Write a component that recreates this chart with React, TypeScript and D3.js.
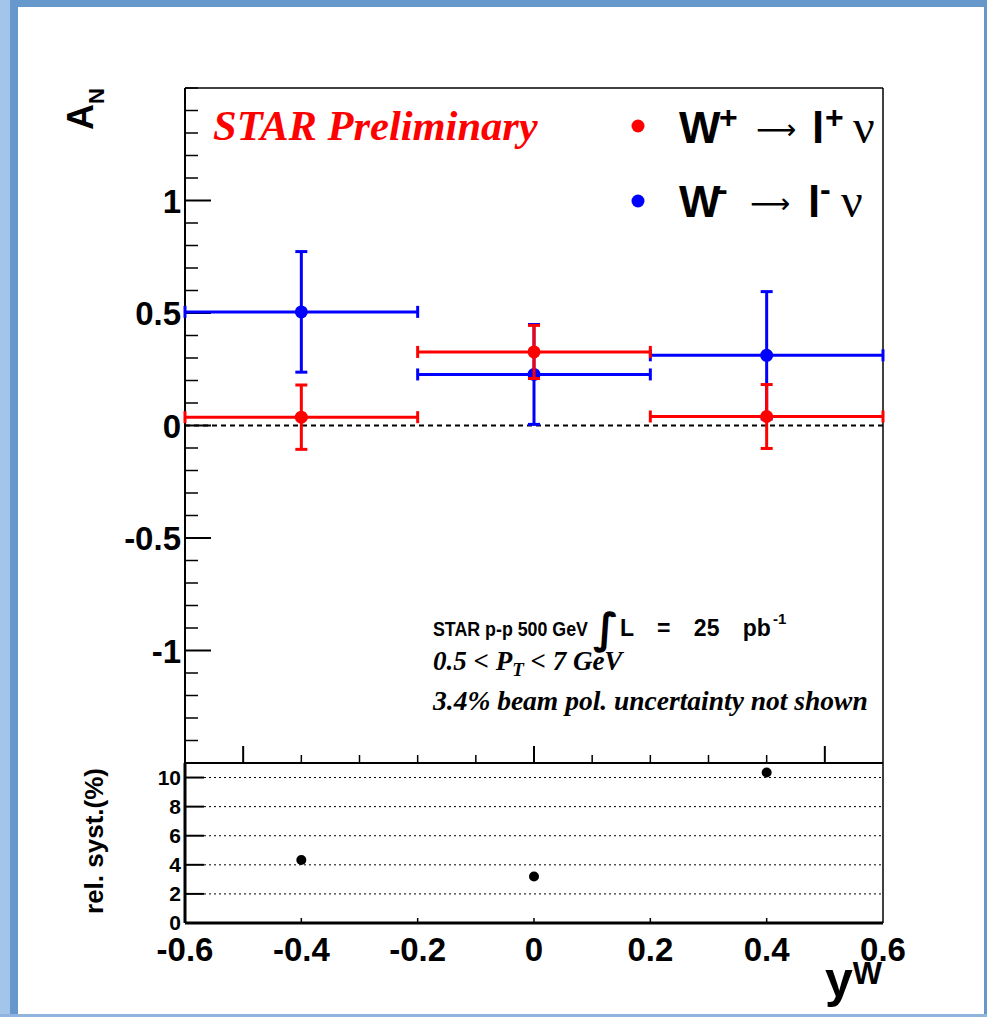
import React from "react";
import * as d3 from "d3";

// ---- data ----
const binCenters = [-0.4, 0.0, 0.4];
const binHalfWidth = [0.2, 0.2, 0.2];
const wPlusValues = [0.037, 0.327, 0.04];
const wPlusErrors = [0.143, 0.118, 0.142];
const wMinusValues = [0.505, 0.227, 0.312];
const wMinusErrors = [0.268, 0.222, 0.283];
const relSystValues = [4.33, 3.2, 10.35];
const mainYMajorTicks = [-1, -0.5, 0, 0.5, 1];
const mainYTickLabels = ["-1", "-0.5", "0", "0.5", "1"];
const lowerYTicks = [0, 2, 4, 6, 8, 10];
const lowerXTicks = [-0.6, -0.4, -0.2, 0, 0.2, 0.4, 0.6];
const lowerXTickLabels = ["-0.6", "-0.4", "-0.2", "0", "0.2", "0.4", "0.6"];

const W = 987;
const H = 1017;
const RED = "#ff0000";
const BLUE = "#0000ff";
const SANS = "'Liberation Sans', Arial, Helvetica, sans-serif";
const SERIF = "'Liberation Serif', 'Times New Roman', serif";
const DEJAVU = "'DejaVu Sans', sans-serif";

const L = 185, R = 883, MT = 88, MB = 763, LB = 923;

const x = d3.scaleLinear().domain([-0.6, 0.6]).range([L, R]);
const y = d3.scaleLinear().domain([-1.5, 1.5]).range([MB, MT]);
const y2 = d3.scaleLinear().domain([0, 11]).range([LB, MB]);

const fmt1 = (v: number) => Math.round(v * 10) / 10;
const minorY = d3.range(-15, 16).map((i) => i / 10).filter((v) => !mainYMajorTicks.some((m) => Math.abs(m - v) < 1e-9));
const mainXTicks = d3.range(-5, 6).map((i) => i / 10);

function Series({ vals, errs, color }: { vals: number[]; errs: number[]; color: string }) {
  const cap = 6;
  return (
    <g stroke={color} fill={color} strokeWidth={3}>
      {binCenters.map((c, i) => {
        const cx = x(c);
        const cy = y(vals[i]);
        const xl = x(c - binHalfWidth[i]);
        const xr = x(c + binHalfWidth[i]);
        const yt = y(vals[i] + errs[i]);
        const yb = y(vals[i] - errs[i]);
        return (
          <g key={i}>
            <line x1={xl} x2={xr} y1={cy} y2={cy} />
            <line x1={xl} x2={xl} y1={cy - cap} y2={cy + cap} />
            <line x1={xr} x2={xr} y1={cy - cap} y2={cy + cap} />
            <line x1={cx} x2={cx} y1={yt} y2={yb} />
            <line x1={cx - cap} x2={cx + cap} y1={yt} y2={yt} />
            <line x1={cx - cap} x2={cx + cap} y1={yb} y2={yb} />
            <circle cx={cx} cy={cy} r={6.5} stroke="none" />
          </g>
        );
      })}
    </g>
  );
}

export default function App() {
  return (
    <svg width={W} height={H} style={{ position: "absolute", left: 0, top: 0, display: "block" }}>
      {/* window frame */}
      <rect x={0} y={0} width={W} height={H} fill="#6698cb" />
      <rect x={0} y={0} width={10} height={H} fill="#a3c5ea" />
      <rect x={0} y={1014} width={W} height={3} fill="#8fb5df" />
      <rect x={18} y={7} width={966} height={1007} fill="#ffffff" />

      {/* zero dashed line */}
      <line x1={L} x2={R} y1={y(0)} y2={y(0)} stroke="#000" strokeWidth={2} strokeDasharray="5,4" />

      {/* main panel frame */}
      <line x1={L} x2={R} y1={MT} y2={MT} stroke="#000" strokeWidth={1.5} />
      <line x1={R} x2={R} y1={MT} y2={MB} stroke="#000" strokeWidth={1.5} />
      <line x1={L} x2={R} y1={MB} y2={MB} stroke="#000" strokeWidth={2} />
      <line x1={L} x2={L} y1={MT} y2={MB} stroke="#000" strokeWidth={2} />

      {/* main y ticks */}
      {mainYMajorTicks.map((v, i) => (
        <g key={"ym" + i}>
          <line x1={L} x2={L + 26} y1={y(v)} y2={y(v)} stroke="#000" strokeWidth={2} />
          <text x={181} y={y(v) + 12} textAnchor="end" fontFamily={SANS} fontWeight="bold" fontSize={33}>
            {mainYTickLabels[i]}
          </text>
        </g>
      ))}
      {minorY.map((v, i) => (
        <line key={"yn" + i} x1={L} x2={L + 13} y1={y(v)} y2={y(v)} stroke="#000" strokeWidth={1.5} />
      ))}
      {/* main x ticks */}
      {mainXTicks.map((v, i) => {
        const big = Math.abs(fmt1(v) % 0.5) < 1e-9;
        return <line key={"xm" + i} x1={x(v)} x2={x(v)} y1={MB} y2={MB - (big ? 17 : 8)} stroke="#000" strokeWidth={big ? 2 : 1.5} />;
      })}

      {/* data */}
      <Series vals={wMinusValues} errs={wMinusErrors} color={BLUE} />
      <Series vals={wPlusValues} errs={wPlusErrors} color={RED} />

      {/* STAR Preliminary */}
      <text x={213} y={140} fill={RED} fontFamily={SERIF} fontWeight="bold" fontStyle="italic" fontSize={42.5}>
        STAR Preliminary
      </text>

      {/* legend */}
      <circle cx={638} cy={126} r={6.5} fill={RED} />
      <text y={143} fontFamily={SANS} fontWeight="bold" fontSize={44}>
        <tspan x={679}>W</tspan>
        <tspan x={719} y={128} fontSize={32}>+</tspan>
      </text>
      <text x={756} y={139} fontFamily={DEJAVU} fontSize={28}>⟶</text>
      <text y={143} fontFamily={SANS} fontWeight="bold" fontSize={44}>
        <tspan x={812}>l</tspan>
        <tspan x={825} y={128} fontSize={32}>+</tspan>
      </text>
      <text x={853} y={143} fontFamily={SERIF} fontSize={48}>ν</text>

      <circle cx={638} cy={201} r={6.5} fill={BLUE} />
      <text y={217} fontFamily={SANS} fontWeight="bold" fontSize={44}>
        <tspan x={679}>W</tspan>
        <tspan x={717} y={200} fontSize={32}>-</tspan>
      </text>
      <text x={750} y={213} fontFamily={DEJAVU} fontSize={28}>⟶</text>
      <text y={217} fontFamily={SANS} fontWeight="bold" fontSize={44}>
        <tspan x={808}>l</tspan>
        <tspan x={820} y={200} fontSize={32}>-</tspan>
      </text>
      <text x={841} y={217} fontFamily={SERIF} fontSize={48}>ν</text>

      {/* info text */}
      <text x={433} y={636} fontFamily={SANS} fontWeight="bold" fontSize={21} textLength={155} lengthAdjust="spacingAndGlyphs">
        STAR p-p 500 GeV
      </text>
      <text x={593} y={643} fontFamily={DEJAVU} fontWeight="bold" fontSize={42}>∫</text>
      <text x={620} y={636} fontFamily={SANS} fontWeight="bold" fontSize={23} wordSpacing={17}>
        L = 25 pb
      </text>
      <text x={773} y={624} fontFamily={SANS} fontWeight="bold" fontSize={15}>-1</text>
      <text x={433} y={670} fontFamily={SERIF} fontWeight="bold" fontStyle="italic" fontSize={27}>
        0.5 &lt; P<tspan dy={6} fontSize={19}>T</tspan>
        <tspan dy={-6}> &lt; 7 GeV</tspan>
      </text>
      <text x={433} y={710} fontFamily={SERIF} fontWeight="bold" fontStyle="italic" fontSize={27.5}>
        3.4% beam pol. uncertainty not shown
      </text>

      {/* A_N axis title */}
      <text transform={`translate(93,88) rotate(-90)`} textAnchor="end" fontFamily={SANS} fontWeight="bold" fontSize={36}>
        A<tspan dy={11} fontSize={22}>N</tspan>
      </text>

      {/* lower panel */}
      {lowerYTicks.filter((v) => v > 0).map((v, i) => (
        <line key={"g" + i} x1={L + 19} x2={R} y1={y2(v)} y2={y2(v)} stroke="#000" strokeWidth={1} strokeDasharray="2,3" />
      ))}
      <line x1={L} x2={R} y1={MB} y2={MB} stroke="#000" strokeWidth={1.5} />
      <line x1={R} x2={R} y1={MB} y2={LB} stroke="#000" strokeWidth={1.5} />
      <line x1={L} x2={R} y1={LB} y2={LB} stroke="#000" strokeWidth={3} />
      <line x1={L} x2={L} y1={MB} y2={LB} stroke="#000" strokeWidth={3} />
      {lowerYTicks.map((v, i) => (
        <g key={"ly" + i}>
          <line x1={L} x2={L + 19} y1={y2(v)} y2={y2(v)} stroke="#000" strokeWidth={2} />
          <text x={181} y={y2(v) + 7} textAnchor="end" fontFamily={SANS} fontWeight="bold" fontSize={21}>
            {v}
          </text>
        </g>
      ))}
      {lowerXTicks.map((v, i) => (
        <g key={"lx" + i}>
          {i > 0 && i < lowerXTicks.length - 1 && (
            <line x1={x(v)} x2={x(v)} y1={LB} y2={LB - 5} stroke="#000" strokeWidth={1.5} />
          )}
          <text x={x(v)} y={961} textAnchor="middle" fontFamily={SANS} fontWeight="bold" fontSize={33}>
            {lowerXTickLabels[i]}
          </text>
        </g>
      ))}
      {binCenters.map((c, i) => (
        <circle key={"rs" + i} cx={x(c)} cy={y2(relSystValues[i])} r={5} fill="#000" />
      ))}
      <text transform={`translate(103,841) rotate(-90)`} textAnchor="middle" fontFamily={SANS} fontWeight="bold" fontSize={26}>
        rel. syst.(%)
      </text>

      {/* y^W axis title */}
      <text x={882} y={997} textAnchor="end" fontFamily={SANS} fontWeight="bold" fontSize={50}>
        y<tspan dy={-13} fontSize={31}>W</tspan>
      </text>
    </svg>
  );
}
